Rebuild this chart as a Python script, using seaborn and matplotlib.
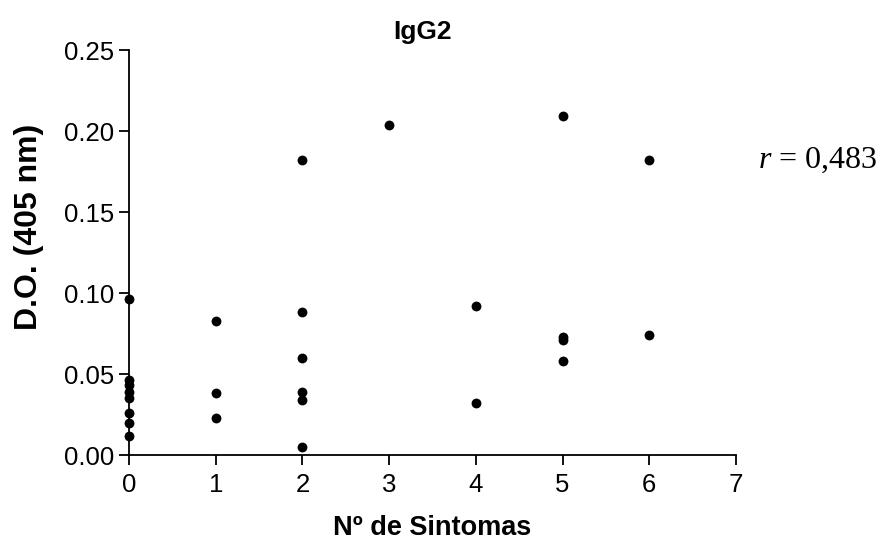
import pandas as pd
import matplotlib
matplotlib.use("Agg")
import matplotlib.pyplot as plt
import seaborn as sb

# valores (IgG2)
sintomas_0 = [0.096, 0.046, 0.043, 0.039, 0.035, 0.026, 0.020, 0.012]
sintomas_1 = [0.083, 0.038, 0.023]
sintomas_2 = [0.182, 0.088, 0.060, 0.039, 0.034, 0.005]
sintomas_3 = [0.204]
sintomas_4 = [0.092, 0.032]
sintomas_5 = [0.209, 0.073, 0.071, 0.058]
sintomas_6 = [0.182, 0.074]

grupos = [sintomas_0, sintomas_1, sintomas_2, sintomas_3, sintomas_4, sintomas_5, sintomas_6]
n_sintomas = [n for n, g in enumerate(grupos) for _ in g]
do_405 = [v for g in grupos for v in g]
data1 = pd.DataFrame({"Sintomas": n_sintomas, "DO": do_405})

sb.set_style("ticks")
plt.rcParams["font.family"] = ["Liberation Sans", "DejaVu Sans"]
plt.rcParams["mathtext.fontset"] = "custom"
plt.rcParams["mathtext.it"] = "Liberation Serif:italic"
plt.rcParams["mathtext.rm"] = "Liberation Serif"
plt.rcParams["text.color"] = "black"
plt.rcParams["axes.labelcolor"] = "black"

fig = plt.figure(figsize=(8.81, 5.54), dpi=100)
ax = fig.add_axes([0.1464, 0.1787, 0.8354 - 0.1464, 0.9097 - 0.1787])

sb.scatterplot(data=data1, x="Sintomas", y="DO", ax=ax, color="black",
               s=50, edgecolor="black", linewidth=0, clip_on=False, zorder=3)

ax.set_xlim(0, 7)
ax.set_ylim(0, 0.25)
ax.set_xticks(range(0, 8))
ax.set_yticks([0.0, 0.05, 0.10, 0.15, 0.20, 0.25])
ax.set_yticklabels(["0.00", "0.05", "0.10", "0.15", "0.20", "0.25"])
ax.tick_params(direction="out", length=7, width=1.3, colors="black",
               labelcolor="black", labelsize=18.5)
ax.tick_params(axis="x", pad=6)
for s in ["top", "right"]:
    ax.spines[s].set_visible(False)
for s in ["left", "bottom"]:
    ax.spines[s].set_linewidth(1.3)
    ax.spines[s].set_color("black")

ax.set_xlabel("Nº de Sintomas", fontsize=19.5, fontweight="bold", labelpad=13)
ax.set_ylabel("D.O. (405 nm)", fontsize=23, fontweight="bold")
ax.yaxis.set_label_coords(-0.14, 0.564)
ax.set_title("IgG2", fontsize=19, fontweight="bold", pad=8, x=0.483)

ax.text(7.25, 0.182, "$r$ = 0,483", fontsize=23, family="Liberation Serif",
        va="center", ha="left")

plt.savefig("out.png", dpi=100)
